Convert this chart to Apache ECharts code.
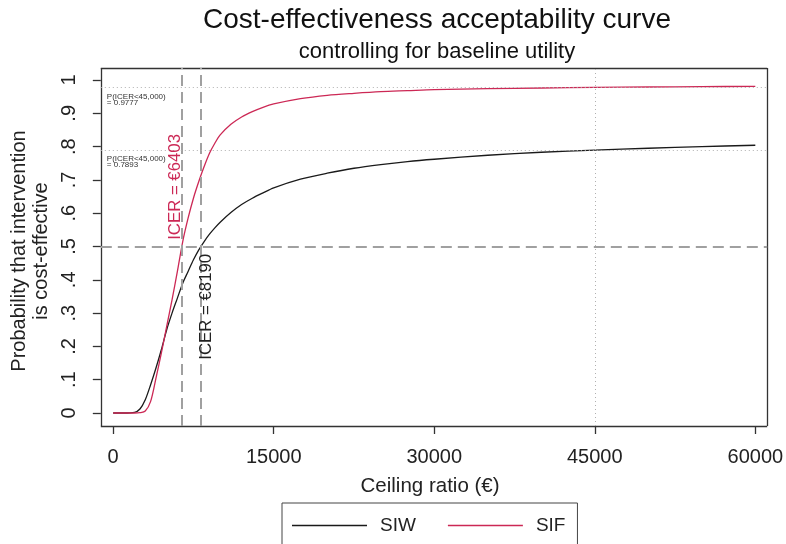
<!DOCTYPE html>
<html>
<head>
<meta charset="utf-8">
<script src="https://cdn.jsdelivr.net/npm/echarts@6/dist/echarts.min.js"></script>
<style>
  html, body { margin: 0; padding: 0; background: #fff; }
  #main { width: 786px; height: 544px; }
</style>
</head>
<body>
<div id="main"></div>
<script>
// ceiling ratio (€) and probability cost-effective for each arm
var ceiling = [0, 1000, 2000, 2500, 3000, 3500, 4000, 4500, 5000, 5500, 6000, 6500, 7000, 7500, 8000,
               8500, 9000, 9500, 10000, 11000, 12000, 13000, 14000, 15000, 17500, 20000, 22500, 25000,
               27500, 30000, 35000, 40000, 45000, 50000, 55000, 60000];
var siw = [0, 0, 0.002, 0.012, 0.04, 0.085, 0.135, 0.19, 0.25, 0.30, 0.345, 0.39, 0.425, 0.46, 0.49,
           0.515, 0.537, 0.556, 0.573, 0.602, 0.626, 0.645, 0.661, 0.676, 0.702, 0.72, 0.735, 0.746,
           0.755, 0.762, 0.774, 0.783, 0.7893, 0.795, 0.80, 0.804];
var sif = [0, 0, 0, 0.001, 0.006, 0.035, 0.105, 0.18, 0.26, 0.34, 0.425, 0.515, 0.585, 0.645, 0.695,
           0.74, 0.78, 0.81, 0.835, 0.867, 0.889, 0.905, 0.918, 0.928, 0.944, 0.954, 0.96, 0.965,
           0.968, 0.971, 0.974, 0.976, 0.9777, 0.979, 0.980, 0.981];

var xTicks = [0, 15000, 30000, 45000, 60000];
var yTicks = [0, 0.1, 0.2, 0.3, 0.4, 0.5, 0.6, 0.7, 0.8, 0.9, 1];
var yTickLabels = ['0', '.1', '.2', '.3', '.4', '.5', '.6', '.7', '.8', '.9', '1'];

var icerSIW = 8190, icerSIF = 6403;
var wtp = 45000, pSIW = 0.7893, pSIF = 0.9777;

var FONT = 'Liberation Sans';
// grid reaches 8px past the frame on the left/bottom so the outward ticks fit inside it
var xMin = -1894, xMax = 61110, xFrame = -1155;
var yMin = -0.063, yMax = 1.036, yFrame = -0.039;
var myChart = echarts.init(document.getElementById('main'));

function pairs(ys) {
    return ceiling.map(function (x, i) { return [x, ys[i]]; });
}

var frame = { color: '#333', type: 'solid', width: 1.3 };
var dashed = { color: '#a0a0a0', type: [11, 6], width: 2 };
var dotted = { color: '#b0b0b0', type: [1, 3], width: 1 };
var pLabel = function (p) {
    return {
        show: true, position: 'insideStartBottom', distance: 6,
        formatter: 'P(ICER<45,000)\n= ' + p,
        fontFamily: FONT, fontSize: 8, lineHeight: 6, color: '#333'
    };
};
function hLine(v, style, label) {
    return [{ xAxis: xFrame, yAxis: v, lineStyle: style, label: label || { show: false } }, { xAxis: xMax, yAxis: v }];
}
function vLine(v, style) {
    return [{ xAxis: v, yAxis: yFrame, lineStyle: style }, { xAxis: v, yAxis: yMax }];
}
// hidden helper axes: their zero sits on the frame, the visible axes snap to it
var helperX = { type: 'value', min: -8, max: 674, show: false };
var helperY = { type: 'value', min: -8, max: 358, show: false };

var option = {
    animation: false,
    backgroundColor: '#fff',
    textStyle: { fontFamily: FONT },
    title: {
        text: 'Cost-effectiveness acceptability curve',
        subtext: 'controlling for baseline utility',
        left: 432, top: 1, textAlign: 'center',
        itemGap: 7,
        textStyle: { fontFamily: FONT, fontSize: 28, fontWeight: 'normal', color: '#111' },
        subtextStyle: { fontFamily: FONT, fontSize: 22, color: '#111' }
    },
    legend: {
        left: 282, top: 503,
        icon: 'rect',
        itemWidth: 75, itemHeight: 1.5, itemGap: 32,
        padding: [13, 12, 30, 10],
        borderColor: '#444', borderWidth: 1,
        textStyle: { fontFamily: FONT, fontSize: 19, color: '#222', padding: [0, 0, 0, 8] },
        data: ['SIW', 'SIF']
    },
    grid: {
        left: 86, right: 18, top: 68, bottom: 110, show: false
    },
    xAxis: [{
        type: 'value', min: xMin, max: xMax,
        name: 'Ceiling ratio (€)', nameLocation: 'middle', nameGap: 42,
        nameTextStyle: { fontFamily: FONT, fontSize: 20.5, color: '#222' },
        axisLine: { show: false, onZero: true, onZeroAxisIndex: 1 },
        axisTick: { show: true, length: 8, customValues: xTicks, lineStyle: { color: '#333', width: 1.3 } },
        axisLabel: {
            customValues: xTicks, margin: 13, fontFamily: FONT, fontSize: 20, color: '#222',
            formatter: function (v) { return String(v); }
        },
        splitLine: { show: false }
    }, helperX],
    yAxis: [{
        type: 'value', min: yMin, max: yMax,
        name: 'Probability that intervention\nis cost-effective', nameLocation: 'middle', nameGap: 38,
        nameTextStyle: { fontFamily: FONT, fontSize: 20, lineHeight: 22, color: '#222' },
        axisLine: { show: false, onZero: true, onZeroAxisIndex: 1 },
        axisTick: { show: true, length: 8, customValues: yTicks, lineStyle: { color: '#333', width: 1.3 } },
        axisLabel: {
            customValues: yTicks, rotate: 90, margin: 13,
            fontFamily: FONT, fontSize: 20, color: '#222',
            formatter: function (v) {
                for (var i = 0; i < yTicks.length; i++) {
                    if (Math.abs(yTicks[i] - v) < 1e-6) return yTickLabels[i];
                }
                return '';
            }
        },
        splitLine: { show: false }
    }, helperY],
    series: [
        {
            name: 'SIW', type: 'line', data: pairs(siw),
            xAxisIndex: 0, yAxisIndex: 0,
            symbol: 'none', smooth: 0.3, clip: false,
            lineStyle: { color: '#1a1a1a', width: 1.3 },
            itemStyle: { color: '#1a1a1a' },
            z: 3,
            markLine: {
                silent: true, symbol: ['none', 'none'],
                label: { show: false },
                data: [
                    // plot frame
                    hLine(yFrame, frame), hLine(yMax, frame),
                    vLine(xFrame, frame), vLine(xMax, frame),
                    // reference lines
                    hLine(0.5, dashed),
                    vLine(icerSIF, dashed),
                    vLine(icerSIW, dashed),
                    hLine(pSIF, dotted, pLabel(pSIF)),
                    hLine(pSIW, dotted, pLabel(pSIW)),
                    vLine(wtp, dotted)
                ]
            },
            markPoint: {
                silent: true, symbol: 'circle', symbolSize: 0,
                data: [{
                    coord: [icerSIW, 0.16],
                    label: {
                        show: true, position: 'inside', rotate: 90, align: 'left', verticalAlign: 'top',
                        lineHeight: 12,
                        formatter: 'ICER = €' + icerSIW,
                        fontFamily: FONT, fontSize: 16.8, color: '#222'
                    }
                }]
            }
        },
        {
            name: 'SIF', type: 'line', data: pairs(sif),
            xAxisIndex: 0, yAxisIndex: 0,
            symbol: 'none', smooth: 0.3, clip: false,
            lineStyle: { color: '#cc2855', width: 1.3 },
            itemStyle: { color: '#cc2855' },
            z: 4,
            markPoint: {
                silent: true, symbol: 'circle', symbolSize: 0,
                data: [{
                    coord: [icerSIF, 0.52],
                    label: {
                        show: true, position: 'inside', rotate: 90, align: 'left', verticalAlign: 'bottom',
                        lineHeight: 12,
                        formatter: 'ICER = €' + icerSIF,
                        fontFamily: FONT, fontSize: 16.8, color: '#cc2855'
                    }
                }]
            }
        }
    ]
};

myChart.setOption(option);
</script>
</body>
</html>
